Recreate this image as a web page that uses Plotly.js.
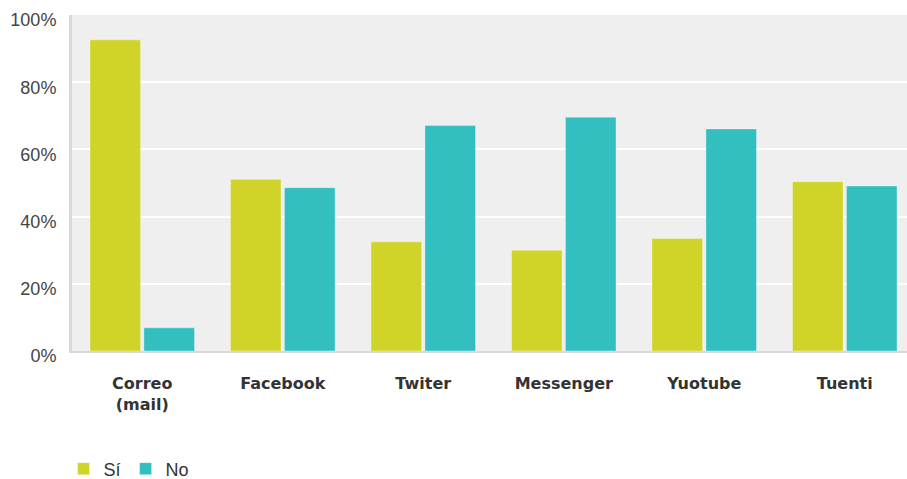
<!DOCTYPE html>
<html>
<head>
<meta charset="utf-8">
<script src="https://cdn.plot.ly/plotly-3.0.1.min.js"></script>
<style>html,body{margin:0;padding:0;background:#fff;overflow:hidden;}#chart{width:915px;height:479px;}</style>
</head>
<body>
<div id="chart"></div>
<script>
const categories = ["Correo<br>(mail)", "Facebook", "Twiter", "Messenger", "Yuotube", "Tuenti"];
const seriesNames = ["Sí", "No"];
const siValues = [92.6, 51.1, 32.5, 30.0, 33.5, 50.4];
const noValues = [6.9, 48.6, 67.1, 69.6, 66.1, 49.1];
const yTickValues = [0, 20, 40, 60, 80, 100];
const yTickLabels = ["0%", "20%", "40%", "60%", "80%", "100%"];

const colors = ["#d0d428", "#33bec0"];

const traces = [siValues, noValues].map((vals, i) => ({
  type: "bar",
  name: seriesNames[i],
  x: categories,
  y: vals,
  marker: {color: colors[i], line: {color: "rgba(255,255,255,0.35)", width: 1}},
  hoverinfo: "x+y"
}));

const layout = {
  width: 915,
  height: 479,
  margin: {l: 72, r: 0, t: 15, b: 128},
  paper_bgcolor: "#ffffff",
  plot_bgcolor: "#efefef",
  font: {family: "Liberation Sans, Arial, sans-serif", size: 17, color: "#444"},
  barmode: "group",
  bargap: 0.232,
  bargroupgap: 0.062,
  xaxis: {
    showgrid: false,
    showline: true,
    linecolor: "#d9d9d9",
    linewidth: 2,
    ticks: "",
    ticklabelstandoff: 17,
    tickfont: {family: "DejaVu Sans, Verdana, sans-serif", size: 16, color: "#333", weight: "bold"}
  },
  yaxis: {
    range: [0, 100],
    tickvals: yTickValues,
    ticktext: yTickLabels,
    showgrid: true,
    gridcolor: "#ffffff",
    gridwidth: 2,
    zeroline: false,
    showline: true,
    linecolor: "#d9d9d9",
    linewidth: 3,
    ticks: "",
    ticklabelstandoff: 9,
    ticklabelshift: 5,
    tickfont: {family: "Liberation Sans, Arial, sans-serif", size: 18, color: "#444"}
  },
  showlegend: true,
  legend: {
    orientation: "h",
    x: -0.01,
    xanchor: "left",
    yref: "container",
    y: 0.021,
    yanchor: "middle",
    font: {family: "Liberation Sans, Arial, sans-serif", size: 18, color: "#333"},
    itemwidth: 30,
    traceorder: "normal"
  }
};

Plotly.newPlot("chart", traces, layout, {displayModeBar: false, staticPlot: true});
</script>
</body>
</html>
